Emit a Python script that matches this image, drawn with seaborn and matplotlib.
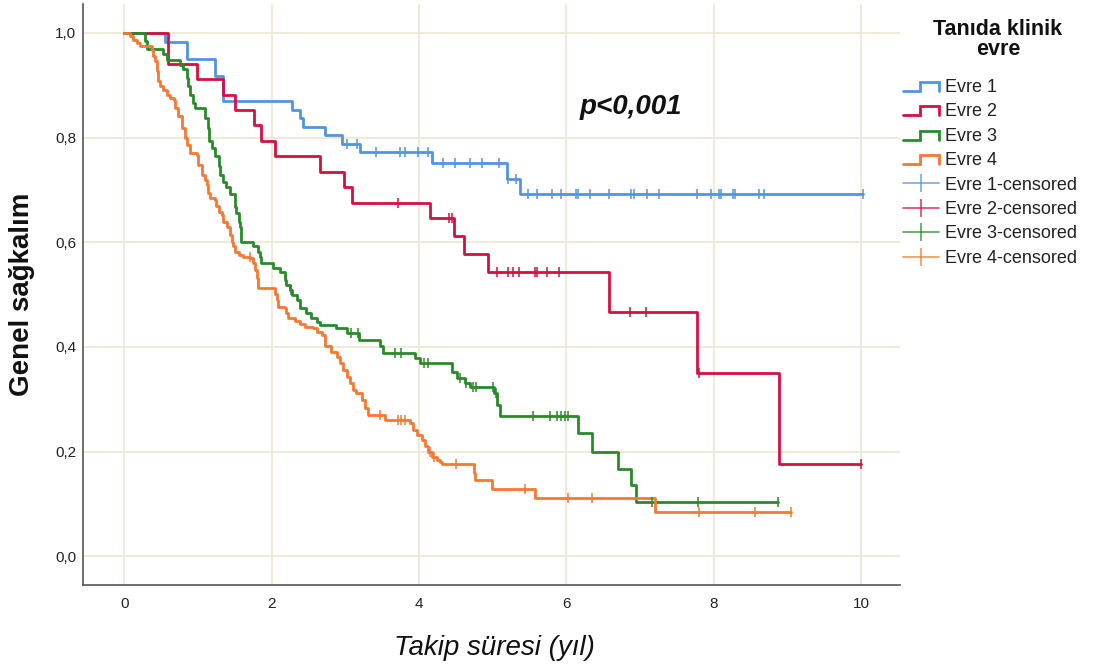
import numpy as np
import pandas as pd
import matplotlib
matplotlib.use("Agg")
import matplotlib.pyplot as plt
import seaborn as sns
from matplotlib.lines import Line2D
from matplotlib.legend_handler import HandlerBase
from matplotlib.ticker import FuncFormatter

# Kaplan-Meier steps: time of each drop (years) and survival after it
evre1_time = [0, 0.55, 0.85, 1.23, 1.34, 2.27, 2.38, 2.43, 2.72, 2.95, 3.20, 4.17, 5.19, 5.37]
evre1_surv = [1.0, 0.983, 0.950, 0.918, 0.869, 0.853, 0.837, 0.820, 0.804, 0.788, 0.772, 0.751, 0.720, 0.692]
evre1_cens = [3.02, 3.16, 3.41, 3.74, 3.81, 3.98, 4.12, 4.32, 4.49, 4.69, 4.85, 5.09, 5.21, 5.32,
              5.48, 5.60, 5.80, 5.93, 6.13, 6.16, 6.32, 6.57, 6.88, 6.91, 7.09, 7.26, 7.77, 7.96,
              8.07, 8.09, 8.26, 8.29, 8.61, 8.68, 10.02]

evre2_time = [0, 0.60, 0.99, 1.34, 1.50, 1.76, 1.86, 2.04, 2.65, 2.98, 3.09, 4.15, 4.47, 4.61,
              4.94, 6.58, 7.77, 8.89]
evre2_surv = [1.0, 0.941, 0.911, 0.881, 0.852, 0.823, 0.794, 0.764, 0.735, 0.705, 0.675, 0.646,
              0.612, 0.578, 0.543, 0.466, 0.351, 0.176]
evre2_cens = [3.72, 4.41, 4.45, 5.06, 5.20, 5.27, 5.35, 5.57, 5.60, 5.73, 5.90, 6.86, 7.08, 7.80, 10.0]

evre3_time = [0, 0.28, 0.31, 0.53, 0.58, 0.76, 0.80, 0.85, 0.87, 0.89, 0.93, 0.96, 1.10, 1.13,
              1.15, 1.19, 1.23, 1.28, 1.30, 1.34, 1.38, 1.43, 1.50, 1.52, 1.55, 1.57, 1.59, 1.75,
              1.82, 1.84, 1.86, 2.02, 2.11, 2.18, 2.20, 2.25, 2.27, 2.34, 2.38, 2.47, 2.54, 2.61,
              2.66, 2.87, 3.02, 3.18, 3.47, 3.51, 3.94, 4.01, 4.44, 4.51, 4.62, 4.69, 5.01, 5.06,
              5.10, 6.16, 6.34, 6.70, 6.88, 6.94]
evre3_surv = [1.0, 0.985, 0.970, 0.960, 0.949, 0.939, 0.930, 0.914, 0.898, 0.882, 0.866, 0.857,
              0.837, 0.818, 0.793, 0.780, 0.764, 0.745, 0.729, 0.715, 0.706, 0.693, 0.668, 0.655,
              0.639, 0.630, 0.601, 0.592, 0.582, 0.572, 0.560, 0.550, 0.544, 0.528, 0.518, 0.509,
              0.499, 0.490, 0.474, 0.465, 0.455, 0.448, 0.442, 0.436, 0.426, 0.413, 0.401, 0.388,
              0.378, 0.369, 0.353, 0.340, 0.332, 0.324, 0.312, 0.290, 0.268, 0.235, 0.200, 0.166,
              0.136, 0.103]
evre3_cens = [2.19, 2.26, 3.08, 3.17, 3.67, 3.76, 4.06, 4.12, 4.55, 4.64, 4.73, 4.77, 5.00, 5.04,
              5.55, 5.78, 5.87, 5.93, 5.98, 6.02, 7.16, 7.78, 8.87]

evre4_time = [0, 0.08, 0.12, 0.17, 0.21, 0.37, 0.39, 0.42, 0.44, 0.46, 0.48, 0.53, 0.58, 0.62,
              0.67, 0.69, 0.73, 0.78, 0.82, 0.85, 0.89, 0.98, 1.00, 1.05, 1.10, 1.12, 1.14, 1.16,
              1.23, 1.25, 1.28, 1.32, 1.34, 1.39, 1.43, 1.46, 1.48, 1.50, 1.55, 1.61, 1.71, 1.75,
              1.77, 1.80, 1.82, 2.04, 2.07, 2.09, 2.18, 2.20, 2.22, 2.32, 2.38, 2.45, 2.56, 2.61,
              2.68, 2.72, 2.81, 2.88, 2.93, 2.97, 3.02, 3.06, 3.11, 3.15, 3.22, 3.27, 3.31, 3.54,
              3.88, 3.92, 3.97, 4.04, 4.08, 4.12, 4.17, 4.24, 4.28, 4.31, 4.74, 4.76, 4.99, 5.57, 7.20]
evre4_surv = [1.0, 0.993, 0.987, 0.981, 0.974, 0.968, 0.955, 0.946, 0.927, 0.908, 0.898, 0.891,
              0.882, 0.876, 0.872, 0.857, 0.841, 0.818, 0.799, 0.786, 0.771, 0.767, 0.748, 0.729,
              0.719, 0.709, 0.695, 0.684, 0.681, 0.669, 0.658, 0.652, 0.639, 0.630, 0.614, 0.601,
              0.592, 0.582, 0.575, 0.572, 0.569, 0.560, 0.547, 0.531, 0.513, 0.502, 0.489, 0.477,
              0.474, 0.465, 0.455, 0.449, 0.443, 0.439, 0.436, 0.429, 0.423, 0.401, 0.391, 0.381,
              0.369, 0.356, 0.343, 0.331, 0.318, 0.312, 0.299, 0.283, 0.270, 0.261, 0.254, 0.241,
              0.232, 0.222, 0.210, 0.200, 0.190, 0.184, 0.181, 0.176, 0.159, 0.146, 0.128, 0.111, 0.085]
evre4_cens = [1.70, 3.47, 3.72, 3.76, 3.81, 4.15, 4.20, 4.50, 5.44, 6.02, 6.34, 7.80, 8.56, 9.05]

groups = ["Evre 1", "Evre 2", "Evre 3", "Evre 4"]
colors = ["#5294e2", "#d51040", "#2a8a2a", "#f77832"]
curves = [(evre1_time, evre1_surv, evre1_cens),
          (evre2_time, evre2_surv, evre2_cens),
          (evre3_time, evre3_surv, evre3_cens),
          (evre4_time, evre4_surv, evre4_cens)]

x_ticks = [0, 2, 4, 6, 8, 10]
y_ticks = [0.0, 0.2, 0.4, 0.6, 0.8, 1.0]

sns.set_style("white")
plt.rcParams["font.family"] = ["Liberation Sans", "DejaVu Sans"]

fig = plt.figure(figsize=(10.96, 6.69), dpi=100)
ax = fig.add_axes([83 / 1096, 1 - 585 / 669, 817 / 1096, 581 / 669])

# Draw curves and censored marks
for name, color, (t, s, c) in zip(groups, colors, curves):
    t_line = list(t)
    s_line = list(s)
    if max(c) > t_line[-1]:
        t_line.append(max(c))
        s_line.append(s_line[-1])
    df = pd.DataFrame({"time": t_line, "surv": s_line})
    sns.lineplot(data=df, x="time", y="surv", drawstyle="steps-post", color=color,
                 lw=2.0, errorbar=None, ax=ax, legend=False)
    idx = np.searchsorted(np.array(t), np.array(c), side="right") - 1
    cens_df = pd.DataFrame({"time": c, "surv": np.array(s)[idx]})
    sns.scatterplot(data=cens_df, x="time", y="surv", marker="|", s=60, color=color,
                    linewidth=1.1, ax=ax, legend=False, zorder=3)

ax.set_xlim(-0.56, 10.525)
ax.set_ylim(-0.0546, 1.055)
ax.set_xticks(x_ticks)
ax.set_yticks(y_ticks)
ax.yaxis.set_major_formatter(FuncFormatter(lambda v, p: f"{v:.1f}".replace(".", ",")))
ax.grid(True, color="#efe8d4", lw=1.3)
ax.set_axisbelow(True)
ax.tick_params(length=0, labelsize=11, labelcolor="#222222")
ax.tick_params(axis="x", pad=9)
ax.tick_params(axis="y", pad=5)
sns.despine(ax=ax)
for side in ["left", "bottom"]:
    ax.spines[side].set_color("#555555")
    ax.spines[side].set_linewidth(1.2)

ax.set_xlabel("Takip süresi (yıl)", fontsize=20, fontstyle="italic", color="#111111")
ax.set_ylabel("Genel sağkalım", fontsize=20, fontweight="bold", color="#111111")
ax.xaxis.set_label_coords(0.503, -0.108)
ax.xaxis.label.set_verticalalignment("center")
ax.yaxis.set_label_coords(-0.0747, 0.50)
ax.yaxis.label.set_verticalalignment("center")

ax.text(0.671, 0.823, "p<0,001", transform=ax.transAxes, ha="center", va="center",
        fontsize=20, fontweight="bold", fontstyle="italic", color="#111111")


# Legend with step-shaped icons like SPSS
class StepHandler(HandlerBase):
    def create_artists(self, legend, orig_handle, xdescent, ydescent, width, height, fontsize, trans):
        x0 = -xdescent
        xm = x0 + 0.48 * width
        lo = -ydescent + 0.1 * height
        hi = -ydescent + 0.8 * height
        line = Line2D([x0, xm, xm, x0 + width, x0 + width], [lo, lo, hi, hi, lo],
                      color=orig_handle.get_color(), lw=orig_handle.get_linewidth(),
                      solid_joinstyle="miter")
        line.set_transform(trans)
        return [line]


handles = []
labels = []
handler_map = {}
for name, color in zip(groups, colors):
    h = Line2D([], [], color=color, lw=2.0)
    handles.append(h)
    labels.append(name)
    handler_map[h] = StepHandler()
for name, color in zip(groups, colors):
    handles.append(Line2D([], [], color=color, lw=1.2, alpha=0.8, marker="|",
                          markersize=13, markeredgewidth=1.2))
    labels.append(f"{name}-censored")

fig.text(998 / 1096, 1 - 39.5 / 669, "Tanıda klinik\nevre", ha="center", va="center",
         fontsize=15.5, fontweight="bold", linespacing=0.98, color="#111111")
ax.legend(handles, labels, handler_map=handler_map, loc="upper left",
          bbox_to_anchor=(903 / 1096, 1 - 79 / 669), bbox_transform=fig.transFigure,
          frameon=False, fontsize=13, handlelength=2.0, handletextpad=0.3,
          labelspacing=0.41, borderaxespad=0, borderpad=0, labelcolor="#222222")

fig.savefig("out.png", dpi=100)
